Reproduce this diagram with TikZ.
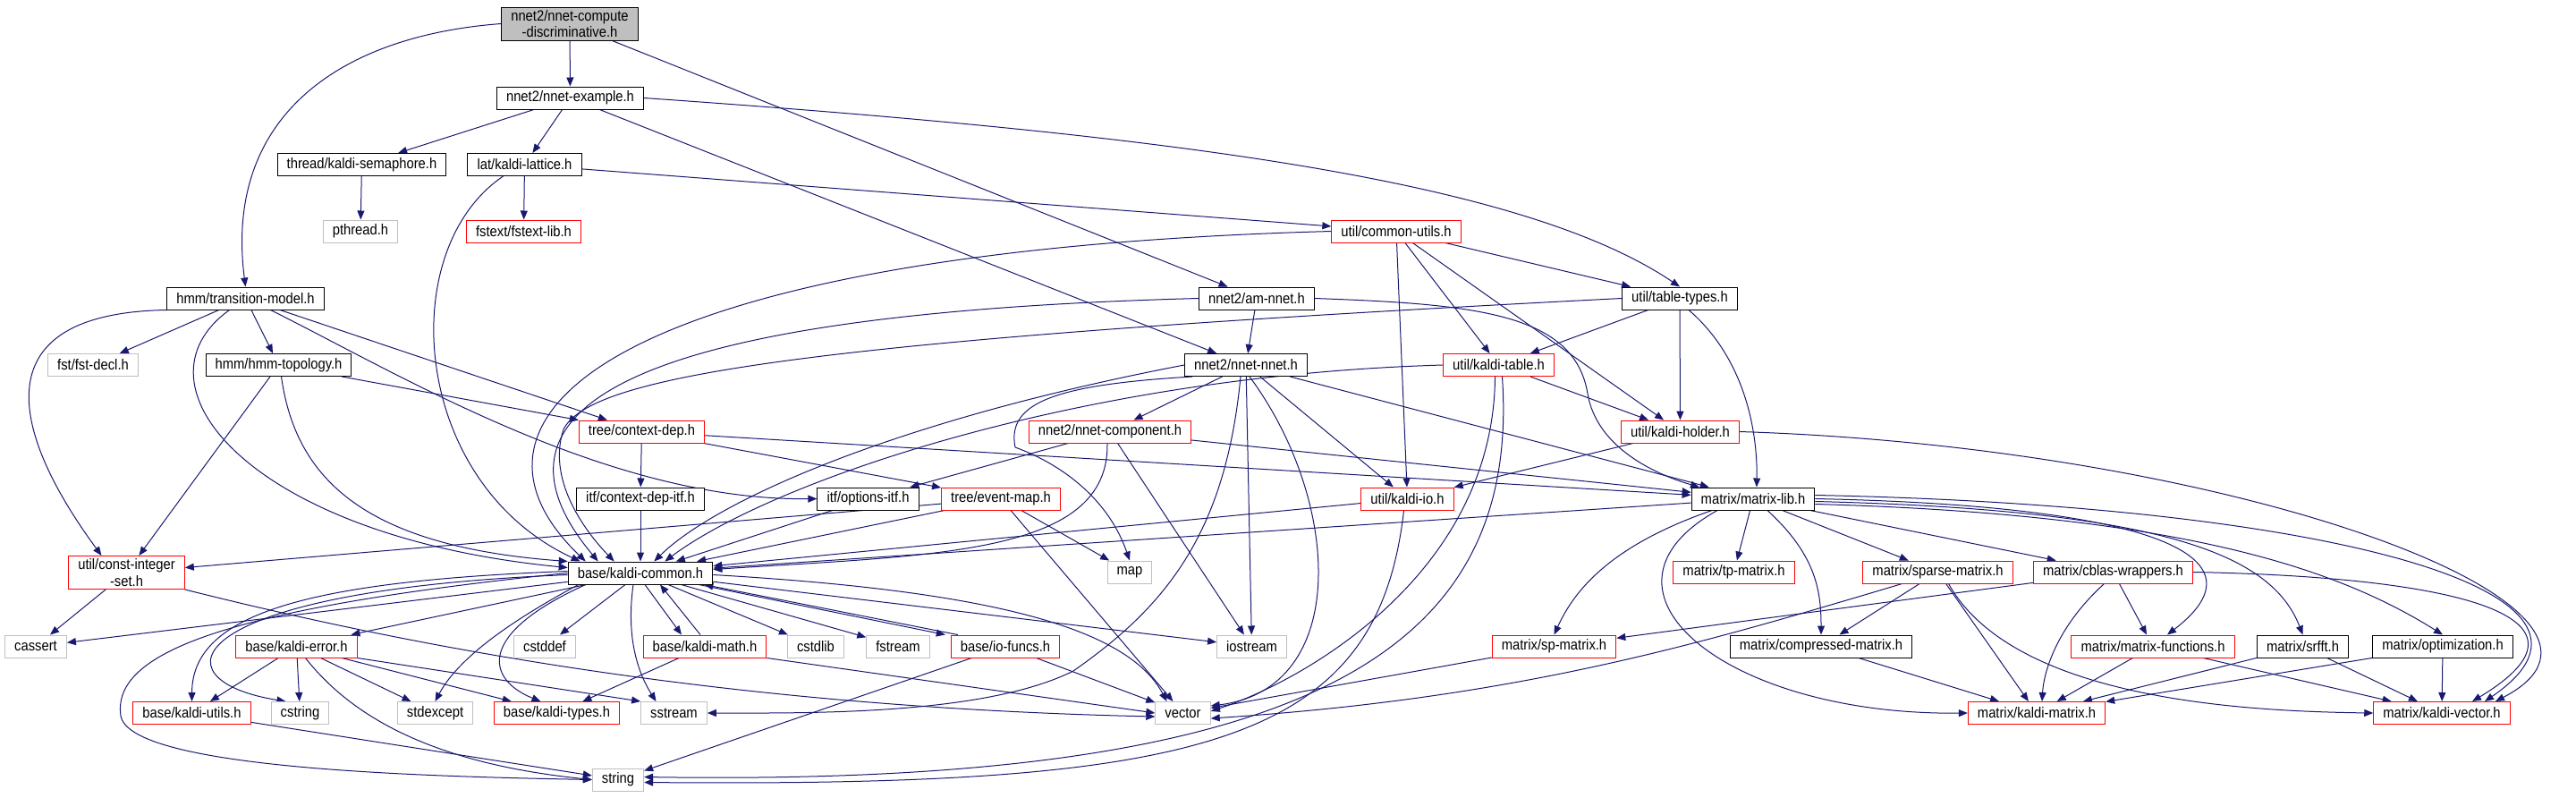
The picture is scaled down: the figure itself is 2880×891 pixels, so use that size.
\documentclass[tikz,border=0pt]{standalone}
\usepackage{fontspec}
\setmainfont{Liberation Sans}[FakeStretch=0.89]
\usetikzlibrary{arrows.meta,backgrounds}
\definecolor{edgeblue}{RGB}{25,25,112}
\definecolor{sysgray}{RGB}{191,191,191}
\definecolor{partred}{RGB}{255,0,0}

\begin{document}
\begin{tikzpicture}[x=0.5pt,y=-0.5pt,
  hdr/.style={draw=black,fill=white,line width=0.5pt,align=center,
    font=\fontsize{8.3}{9.2}\selectfont,inner xsep=5.3pt,inner ysep=1.6pt,
    minimum height=12.5pt},
  hdrred/.style={hdr,draw=partred},
  hdrsys/.style={hdr,draw=sysgray},
  inc/.style={draw=edgeblue,line width=0.5pt,-{Triangle[length=5pt,width=4pt]}}]
\useasboundingbox (0,0) rectangle (2880,891);
% headers, row by row
\node[hdr,fill=sysgray] (cmp) at (637,26.5) {nnet2/nnet-compute\\-discriminative.h};
\node[hdr] (ex) at (637.5,109.5) {nnet2/nnet-example.h};
\node[hdr] (sem) at (404.5,184) {thread/kaldi-semaphore.h};
\node[hdr] (lat) at (586.5,184) {lat/kaldi-lattice.h};
\node[hdrsys] (pth) at (403,258.5) {pthread.h};
\node[hdrred] (fst) at (585.5,258.5) {fstext/fstext-lib.h};
\node[hdrred] (cu) at (1561,258.5) {util/common-utils.h};
\node[hdr] (tm) at (274.5,333.5) {hmm/transition-model.h};
\node[hdr] (am) at (1405,333.5) {nnet2/am-nnet.h};
\node[hdr] (tt) at (1878,333.5) {util/table-types.h};
\node[hdrsys] (fd) at (104,408) {fst/fst-decl.h};
\node[hdr] (topo) at (311.5,408) {hmm/hmm-topology.h};
\node[hdr] (nn) at (1393,408) {nnet2/nnet-nnet.h};
\node[hdrred] (kt) at (1675.5,408) {util/kaldi-table.h};
\node[hdrred] (cd) at (717.5,482.5) {tree/context-dep.h};
\node[hdrred] (nc) at (1241,482.5) {nnet2/nnet-component.h};
\node[hdrred] (kh) at (1878.5,482.5) {util/kaldi-holder.h};
\node[hdr] (cdi) at (716,557.5) {itf/context-dep-itf.h};
\node[hdr] (oi) at (970.5,557.5) {itf/options-itf.h};
\node[hdrred] (em) at (1119,557.5) {tree/event-map.h};
\node[hdrred] (kio) at (1573.5,557.5) {util/kaldi-io.h};
\node[hdr] (ml) at (1960,557.5) {matrix/matrix-lib.h};
\node[hdrred] (cis) at (141.5,640) {util/const-integer\\-set.h};
\node[hdr] (kc) at (716,640.5) {base/kaldi-common.h};
\node[hdrsys] (map) at (1263,639.5) {map};
\node[hdrred] (tp) at (1938.5,639.5) {matrix/tp-matrix.h};
\node[hdrred] (spm) at (2166.5,639.5) {matrix/sparse-matrix.h};
\node[hdrred] (cb) at (2362.5,639.5) {matrix/cblas-wrappers.h};
\node[hdrsys] (cas) at (40,722.5) {cassert};
\node[hdrred] (ke) at (331.5,722.5) {base/kaldi-error.h};
\node[hdrsys] (cdf) at (609,722.5) {cstddef};
\node[hdrred] (km) at (788,722.5) {base/kaldi-math.h};
\node[hdrsys] (csl) at (912,722.5) {cstdlib};
\node[hdrsys] (fs) at (1004,722.5) {fstream};
\node[hdrred] (iof) at (1124,722.5) {base/io-funcs.h};
\node[hdrsys] (ios) at (1399.5,722.5) {iostream};
\node[hdrred] (sp) at (1737.5,722.5) {matrix/sp-matrix.h};
\node[hdr] (cpm) at (2036,722.5) {matrix/compressed-matrix.h};
\node[hdrred] (mf) at (2407,722.5) {matrix/matrix-functions.h};
\node[hdr] (srf) at (2574.5,722.5) {matrix/srfft.h};
\node[hdr] (opt) at (2731,722.5) {matrix/optimization.h};
\node[hdrred] (ku) at (214.5,797) {base/kaldi-utils.h};
\node[hdrsys] (cst) at (335.5,797) {cstring};
\node[hdrsys] (se) at (486.5,797) {stdexcept};
\node[hdrred] (ky) at (622.5,797) {base/kaldi-types.h};
\node[hdrsys] (ss) at (753.5,797) {sstream};
\node[hdrsys] (vec) at (1322.5,797) {vector};
\node[hdrred] (kmx) at (2277,797) {matrix/kaldi-matrix.h};
\node[hdrred] (kv) at (2730,797) {matrix/kaldi-vector.h};
\node[hdrsys] (str) at (691,871.5) {string};

\begin{scope}[on background layer]
% straight includes
\foreach \a/\b in {cmp/ex,cmp/am,ex/sem,ex/lat,ex/nn,sem/pth,lat/fst,lat/cu,
  cu/tt,cu/kt,cu/kh,cu/kio,tm/fd,tm/topo,tm/cd,topo/cis,topo/cd,am/nn,
  tt/kt,tt/kh,nn/nc,nn/kio,nn/ml,nn/ios,kt/kh,kh/kio,cd/cdi,cd/em,cd/ml,
  nc/oi,nc/ios,nc/ml,cdi/kc,oi/kc,em/kc,em/cis,em/map,em/vec,kio/kc,ml/kc,
  ml/tp,ml/spm,ml/cb,cis/cas,kc/cas,kc/ke,kc/cdf,kc/csl,kc/fs,kc/ios,
  ke/ku,ke/cst,ke/se,ke/ky,ke.south east/ss.north west,km/ky,
  km.south east/vec.west,iof/str,iof/vec,spm/cpm,spm/kmx,cb/sp,cb/mf,
  mf/kmx,mf/kv,srf/kmx,srf/kv,opt/kmx,opt/kv,cpm/kmx,sp/vec,ku/str}
  \draw[inc] (\a) -- (\b);
% curved includes, upper part
\draw[inc] (cmp.west) .. controls (380,40) and (250,130) .. (tm.north);
\draw[inc] (ex.east) .. controls (1300,150) and (1700,200) .. (tt.north);
\draw[inc] ([xshift=-44pt]tm.south) .. controls (-20,350) and (10,480) .. ([xshift=-14pt]cis.north);
\draw[inc] ([xshift=14pt]tm.south) .. controls (450,420) and (680,560) .. (oi.west);
\draw[inc] ([xshift=-9pt]tm.south) .. controls (140,430) and (280,600) .. ([yshift=3pt]kc.west);
\draw[inc] ([xshift=1.5pt]topo.south) .. controls (330,530) and (400,610) .. (kc.north west);
\draw[inc] ([xshift=-12pt]lat.south) .. controls (440,280) and (460,540) .. ([xshift=7pt]kc.north west);
\draw[inc] (cu.west) .. controls (700,280) and (480,460) .. ([xshift=10pt]kc.north west);
\draw[inc] (am.west) .. controls (720,350) and (520,450) .. ([xshift=17pt]kc.north west);
\draw[inc] (tt.west) .. controls (900,380) and (660,420) .. (630,480)
  .. controls (610,540) and (660,600) .. ([xshift=26pt]kc.north west);
\draw[inc] (nn.west) .. controls (1000,470) and (800,560) .. ([xshift=-33pt]kc.north east);
\draw[inc] (kt.west) .. controls (1200,420) and (860,540) .. ([xshift=-27pt]kc.north east);
\draw[inc] ([xshift=-1.5pt]nc.south) .. controls (1240,620) and (1050,620) .. ([yshift=2pt]kc.east);
\draw[inc] (am.east) .. controls (1650,340) and (1760,350) .. (1775,440)
  .. controls (1785,500) and (1850,530) .. ([xshift=-30pt]ml.north);
\draw[inc] ([xshift=5pt]tt.south) .. controls (1950,400) and (1965,480) .. ([xshift=2pt]ml.north);
\draw[inc] ([xshift=-30pt]nn.south) .. controls (1180,430) and (1125,450) .. (1135,500)
  .. controls (1190,520) and (1240,560) .. (map.north);
\draw[inc] ([xshift=2pt]nn.south) .. controls (1500,560) and (1510,770) .. ([yshift=4pt]vec.east);
\draw[inc] ([xshift=-3pt]nn.south) .. controls (1370,600) and (1300,680) .. (1200,750)
  .. controls (1100,800) and (900,797) .. (ss.east);
\draw[inc] ([xshift=-2pt]kt.south) .. controls (1670,640) and (1460,760) .. ([yshift=1pt]vec.east);
\draw[inc] ([xshift=2pt]kt.south) .. controls (1700,720) and (1480,880) .. ([yshift=1.5pt]str.east);
\draw[inc] ([xshift=-2pt]kio.south) .. controls (1540,830) and (1350,880) .. ([yshift=-1.5pt]str.east);
\draw[inc] (kh.east) .. controls (2500,500) and (2990,680) .. ([xshift=30pt]kv.north);
% matrix part
\draw[inc] ([xshift=8pt]ml.south) .. controls (2030,620) and (2036,660) .. (cpm.north);
\draw[inc] ([xshift=-23pt]ml.south) .. controls (1800,610) and (1760,660) .. (sp.north);
\draw[inc] ([xshift=-20pt]ml.south) .. controls (1760,660) and (1930,800) .. (kmx.west);
\draw[inc] (ml.east) .. controls (2400,565) and (2540,620) .. ([xshift=8pt]mf.north);
\draw[inc] ([yshift=-1.5pt]ml.east) .. controls (2420,570) and (2540,620) .. (srf.north);
\draw[inc] ([yshift=-3pt]ml.east) .. controls (2450,575) and (2620,640) .. (opt.north);
\draw[inc] ([yshift=2pt]ml.east) .. controls (2600,565) and (2960,660) .. ([xshift=24pt]kv.north);
\draw[inc] (cb.east) .. controls (2750,645) and (2920,690) .. ([xshift=17pt]kv.north);
\draw[inc] ([xshift=-5pt]cb.south) .. controls (2300,700) and (2285,750) .. ([xshift=3pt]kmx.north);
\draw[inc] ([xshift=6pt]spm.south) .. controls (2250,780) and (2500,795) .. (kv.west);
\draw[inc] ([xshift=-20pt]spm.south) .. controls (1900,720) and (1700,780) .. ([yshift=-3pt]vec.east);
% base part
\draw[inc] (cis.south east) .. controls (450,720) and (800,790) .. ([yshift=-2pt]vec.west);
\draw[inc] ([yshift=1pt]kc.west) .. controls (330,650) and (215,690) .. (ku.north);
\draw[inc] ([yshift=-1pt]kc.west) .. controls (200,660) and (170,760) .. ([xshift=-8pt]cst.north);
\draw[inc] (kc.west) .. controls (250,680) and (125,730) .. (135,800)
  .. controls (145,860) and (480,868) .. (str.west);
\draw[inc] ([xshift=6pt]kc.south west) .. controls (560,700) and (510,740) .. (se.north);
\draw[inc] ([xshift=10pt]kc.south west) .. controls (530,710) and (545,760) .. ([xshift=-9pt]ky.north);
\draw[inc] ([xshift=-4pt]kc.south) .. controls (700,710) and (712,750) .. ([xshift=-10pt]ss.north);
\draw[inc] ([xshift=2.5pt]kc.south) -- ([xshift=-13pt]km.north);
\draw[inc] ([xshift=-2.5pt]km.north) -- ([xshift=11pt]kc.south);
\draw[inc] ([xshift=-8pt]kc.south east) -- ([xshift=-3pt]iof.north west);
\draw[inc] ([xshift=4pt]iof.north west) -- ([xshift=-5pt]kc.south east);
\draw[inc] ([yshift=-1pt]kc.east) .. controls (1100,660) and (1260,700) .. ([xshift=-9pt]vec.north);
\draw[inc] ([xshift=5pt]ke.south) .. controls (400,810) and (500,855) .. (str.west);
\end{scope}
\end{tikzpicture}
\end{document}
